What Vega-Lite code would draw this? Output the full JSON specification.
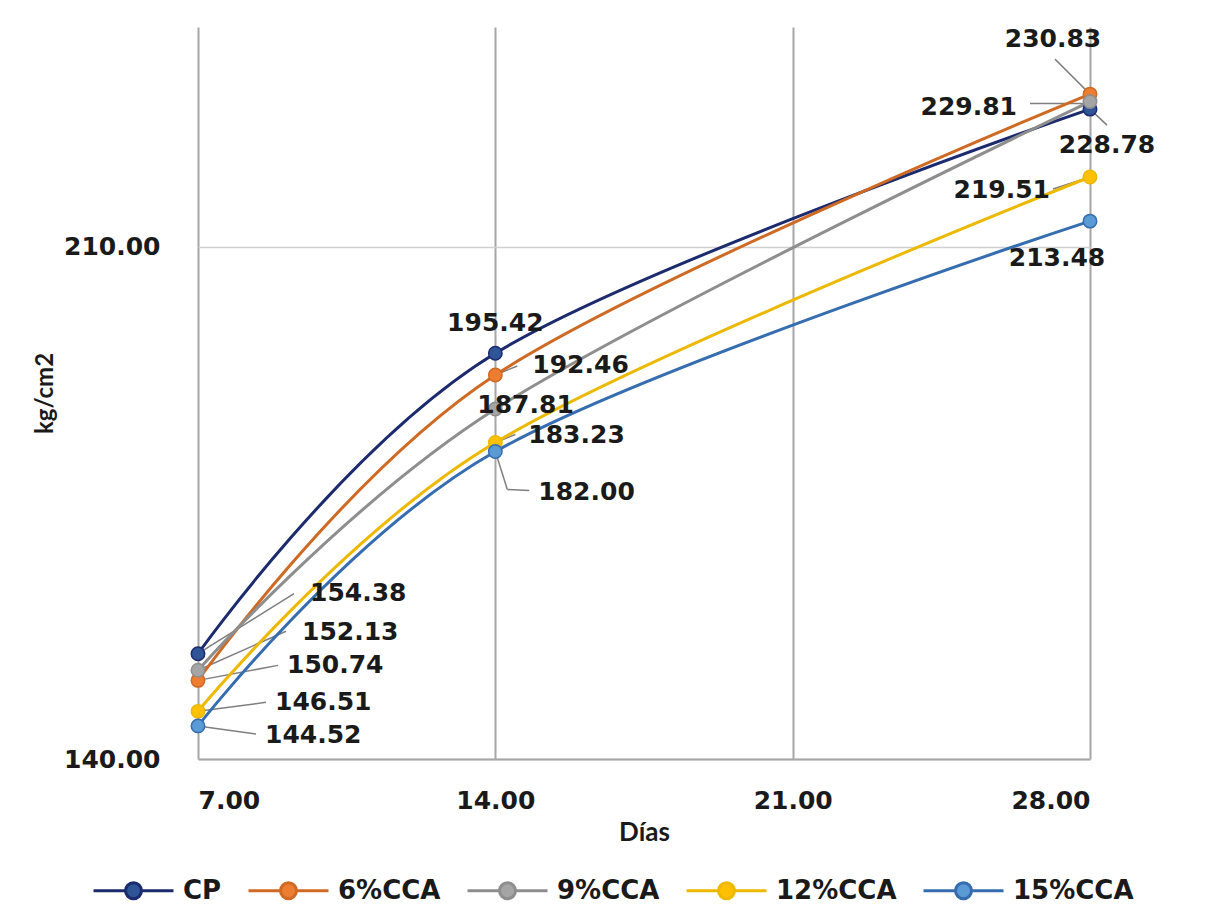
{
  "$schema": "https://vega.github.io/schema/vega-lite/v6.json",
  "autosize": {"type": "none"},
  "width": 892,
  "height": 732,
  "padding": {"left": 198, "top": 27, "right": 119, "bottom": 158},
  "background": "white",
  "data": {
    "values": [
      {"serie": "CP", "dias": 7, "valor": 154.38},
      {"serie": "CP", "dias": 14, "valor": 195.42},
      {"serie": "CP", "dias": 28, "valor": 228.78},
      {"serie": "6%CCA", "dias": 7, "valor": 150.74},
      {"serie": "6%CCA", "dias": 14, "valor": 192.46},
      {"serie": "6%CCA", "dias": 28, "valor": 230.83},
      {"serie": "9%CCA", "dias": 7, "valor": 152.13},
      {"serie": "9%CCA", "dias": 14, "valor": 187.81},
      {"serie": "9%CCA", "dias": 28, "valor": 229.81},
      {"serie": "12%CCA", "dias": 7, "valor": 146.51},
      {"serie": "12%CCA", "dias": 14, "valor": 183.23},
      {"serie": "12%CCA", "dias": 28, "valor": 219.51},
      {"serie": "15%CCA", "dias": 7, "valor": 144.52},
      {"serie": "15%CCA", "dias": 14, "valor": 182.00},
      {"serie": "15%CCA", "dias": 28, "valor": 213.48}
    ]
  },
  "encoding": {
    "x": {
      "field": "dias",
      "type": "quantitative",
      "scale": {"domain": [7, 28], "nice": false, "zero": false},
      "axis": {
        "title": "Días",
        "values": [7, 14, 21, 28],
        "format": ".2f",
        "grid": true,
        "gridColor": "#A6A6A6",
        "gridWidth": 2,
        "domainColor": "#A6A6A6",
        "domainWidth": 2,
        "ticks": false,
        "labelPadding": 29,
        "labelBaseline": "top",
        "labelFont": "DejaVu Sans",
        "labelFontWeight": "bold",
        "labelFontSize": 25,
        "labelColor": "#1a1a1a",
        "titleFont": "Lato",
        "titleFontWeight": "bold",
        "titleFontSize": 26,
        "titleColor": "#1a1a1a",
        "titleX": 446,
        "titleY": 73,
        "titleBaseline": "middle"
      }
    },
    "y": {
      "field": "valor",
      "type": "quantitative",
      "scale": {"domain": [140, 240], "nice": false, "zero": false},
      "axis": {
        "title": "kg/cm2",
        "values": [140, 210],
        "format": ".2f",
        "grid": true,
        "gridColor": "#D0D0D0",
        "gridWidth": 1.5,
        "domain": false,
        "ticks": false,
        "labelPadding": 38,
        "labelFont": "DejaVu Sans",
        "labelFontWeight": "bold",
        "labelFontSize": 25,
        "labelColor": "#1a1a1a",
        "titleFont": "Lato",
        "titleFontWeight": "bold",
        "titleFontSize": 24,
        "titleColor": "#1a1a1a",
        "titleAngle": -90,
        "titleX": -153,
        "titleY": 366,
        "titleAlign": "center",
        "titleBaseline": "middle"
      }
    }
  },
  "layer": [
    {"transform": [{"filter": "datum.serie == '6%CCA' && datum.dias == 28"}], "mark": {"type": "rule", "x2Offset": -35, "y2Offset": -35}, "encoding": {"x2": {"field": "dias"}, "y2": {"field": "valor"}}},
    {"transform": [{"filter": "datum.serie == '9%CCA' && datum.dias == 28"}], "mark": {"type": "rule", "x2Offset": -60, "y2Offset": 2, "yOffset": 2}, "encoding": {"x2": {"field": "dias"}, "y2": {"field": "valor"}}},
    {"transform": [{"filter": "datum.serie == 'CP' && datum.dias == 28"}], "mark": {"type": "rule", "x2Offset": 17, "y2Offset": 16}, "encoding": {"x2": {"field": "dias"}, "y2": {"field": "valor"}}},
    {"transform": [{"filter": "datum.serie == '12%CCA' && datum.dias == 28"}], "mark": {"type": "rule", "x2Offset": -37, "y2Offset": 12}, "encoding": {"x2": {"field": "dias"}, "y2": {"field": "valor"}}},
    {"transform": [{"filter": "datum.serie == '6%CCA' && datum.dias == 14"}], "mark": {"type": "rule", "x2Offset": 22, "y2Offset": -9}, "encoding": {"x2": {"field": "dias"}, "y2": {"field": "valor"}}},
    {"transform": [{"filter": "datum.serie == '12%CCA' && datum.dias == 14"}], "mark": {"type": "rule", "x2Offset": 20, "y2Offset": -8}, "encoding": {"x2": {"field": "dias"}, "y2": {"field": "valor"}}},
    {"transform": [{"filter": "datum.serie == '15%CCA' && datum.dias == 14"}], "mark": {"type": "rule", "x2Offset": 12, "y2Offset": 38}, "encoding": {"x2": {"field": "dias"}, "y2": {"field": "valor"}}},
    {"transform": [{"filter": "datum.serie == '15%CCA' && datum.dias == 14"}], "mark": {"type": "rule", "xOffset": 12, "yOffset": 38, "x2Offset": 34, "y2Offset": 39}, "encoding": {"x2": {"field": "dias"}, "y2": {"field": "valor"}}},
    {"transform": [{"filter": "datum.serie == 'CP' && datum.dias == 7"}], "mark": {"type": "rule", "x2Offset": 96, "y2Offset": -60}, "encoding": {"x2": {"field": "dias"}, "y2": {"field": "valor"}}},
    {"transform": [{"filter": "datum.serie == '9%CCA' && datum.dias == 7"}], "mark": {"type": "rule", "x2Offset": 88, "y2Offset": -39}, "encoding": {"x2": {"field": "dias"}, "y2": {"field": "valor"}}},
    {"transform": [{"filter": "datum.serie == '6%CCA' && datum.dias == 7"}], "mark": {"type": "rule", "x2Offset": 80, "y2Offset": -15}, "encoding": {"x2": {"field": "dias"}, "y2": {"field": "valor"}}},
    {"transform": [{"filter": "datum.serie == '12%CCA' && datum.dias == 7"}], "mark": {"type": "rule", "x2Offset": 68, "y2Offset": -9}, "encoding": {"x2": {"field": "dias"}, "y2": {"field": "valor"}}},
    {"transform": [{"filter": "datum.serie == '15%CCA' && datum.dias == 7"}], "mark": {"type": "rule", "x2Offset": 58, "y2Offset": 8}, "encoding": {"x2": {"field": "dias"}, "y2": {"field": "valor"}}},
    {
      "mark": {"type": "line", "interpolate": "cardinal", "strokeWidth": 3},
      "encoding": {
        "stroke": {
          "field": "serie",
          "type": "nominal",
          "sort": ["CP", "6%CCA", "9%CCA", "12%CCA", "15%CCA"],
          "scale": {
            "domain": ["CP", "6%CCA", "9%CCA", "12%CCA", "15%CCA"],
            "range": ["#1C2A6E", "#CF6A24", "#8E8E8E", "#EDB800", "#356DB0"]
          },
          "legend": {
            "orient": "none",
            "direction": "horizontal",
            "legendX": -106,
            "legendY": 822,
            "title": null,
            "symbolType": "M-1,0L-0.2,0M0.2,0L1,0M0.2,0A0.2,0.2,0,1,1,-0.2,0A0.2,0.2,0,1,1,0.2,0Z",
            "symbolSize": 6400,
            "symbolStrokeWidth": 3,
            "labelFont": "DejaVu Sans",
            "labelFontWeight": "bold",
            "labelFontSize": 26,
            "labelColor": "#1a1a1a",
            "labelOffset": 8,
            "columnPadding": 20,
            "encode": {
              "symbols": {"update": {"fill": {"scale": "fill", "field": "value"}, "fillOpacity": {"value": 1}}}
            }
          }
        },
        "order": {"field": "dias"}
      }
    },
    {
      "mark": {"type": "point", "filled": true, "size": 180, "strokeWidth": 1.5, "opacity": 1},
      "encoding": {
        "fill": {
          "field": "serie",
          "type": "nominal",
          "scale": {
            "domain": ["CP", "6%CCA", "9%CCA", "12%CCA", "15%CCA"],
            "range": ["#2F5597", "#ED7D31", "#A5A5A5", "#FFC000", "#5B9BD5"]
          },
          "legend": null
        },
        "stroke": {"field": "serie", "type": "nominal"}
      }
    },
    {"transform": [{"filter": "datum.serie == '6%CCA' && datum.dias == 28"}], "mark": {"type": "text", "align": "center", "dx": -37, "dy": -55}, "encoding": {"text": {"field": "valor", "format": ".2f"}}},
    {"transform": [{"filter": "datum.serie == '9%CCA' && datum.dias == 28"}], "mark": {"type": "text", "align": "right", "dx": -73, "dy": 5}, "encoding": {"text": {"field": "valor", "format": ".2f"}}},
    {"transform": [{"filter": "datum.serie == 'CP' && datum.dias == 28"}], "mark": {"type": "text", "align": "center", "dx": 17, "dy": 36}, "encoding": {"text": {"field": "valor", "format": ".2f"}}},
    {"transform": [{"filter": "datum.serie == '12%CCA' && datum.dias == 28"}], "mark": {"type": "text", "align": "right", "dx": -40, "dy": 13}, "encoding": {"text": {"field": "valor", "format": ".2f"}}},
    {"transform": [{"filter": "datum.serie == '15%CCA' && datum.dias == 28"}], "mark": {"type": "text", "align": "center", "dx": -33, "dy": 37}, "encoding": {"text": {"field": "valor", "format": ".2f"}}},
    {"transform": [{"filter": "datum.serie == 'CP' && datum.dias == 14"}], "mark": {"type": "text", "align": "center", "dx": 0, "dy": -30}, "encoding": {"text": {"field": "valor", "format": ".2f"}}},
    {"transform": [{"filter": "datum.serie == '6%CCA' && datum.dias == 14"}], "mark": {"type": "text", "align": "left", "dx": 37, "dy": -10}, "encoding": {"text": {"field": "valor", "format": ".2f"}}},
    {"transform": [{"filter": "datum.serie == '9%CCA' && datum.dias == 14"}], "mark": {"type": "text", "align": "left", "dx": -18, "dy": -4}, "encoding": {"text": {"field": "valor", "format": ".2f"}}},
    {"transform": [{"filter": "datum.serie == '12%CCA' && datum.dias == 14"}], "mark": {"type": "text", "align": "left", "dx": 33, "dy": -8}, "encoding": {"text": {"field": "valor", "format": ".2f"}}},
    {"transform": [{"filter": "datum.serie == '15%CCA' && datum.dias == 14"}], "mark": {"type": "text", "align": "left", "dx": 43, "dy": 40}, "encoding": {"text": {"field": "valor", "format": ".2f"}}},
    {"transform": [{"filter": "datum.serie == 'CP' && datum.dias == 7"}], "mark": {"type": "text", "align": "left", "dx": 112, "dy": -61}, "encoding": {"text": {"field": "valor", "format": ".2f"}}},
    {"transform": [{"filter": "datum.serie == '9%CCA' && datum.dias == 7"}], "mark": {"type": "text", "align": "left", "dx": 104, "dy": -38}, "encoding": {"text": {"field": "valor", "format": ".2f"}}},
    {"transform": [{"filter": "datum.serie == '6%CCA' && datum.dias == 7"}], "mark": {"type": "text", "align": "left", "dx": 89, "dy": -15}, "encoding": {"text": {"field": "valor", "format": ".2f"}}},
    {"transform": [{"filter": "datum.serie == '12%CCA' && datum.dias == 7"}], "mark": {"type": "text", "align": "left", "dx": 77, "dy": -9}, "encoding": {"text": {"field": "valor", "format": ".2f"}}},
    {"transform": [{"filter": "datum.serie == '15%CCA' && datum.dias == 7"}], "mark": {"type": "text", "align": "left", "dx": 67, "dy": 9}, "encoding": {"text": {"field": "valor", "format": ".2f"}}}
  ],
  "config": {
    "view": {"stroke": null},
    "rule": {"color": "#7F7F7F", "strokeWidth": 1.5},
    "text": {"font": "DejaVu Sans", "fontWeight": "bold", "fontSize": 25, "baseline": "middle", "color": "#1a1a1a"}
  }
}
